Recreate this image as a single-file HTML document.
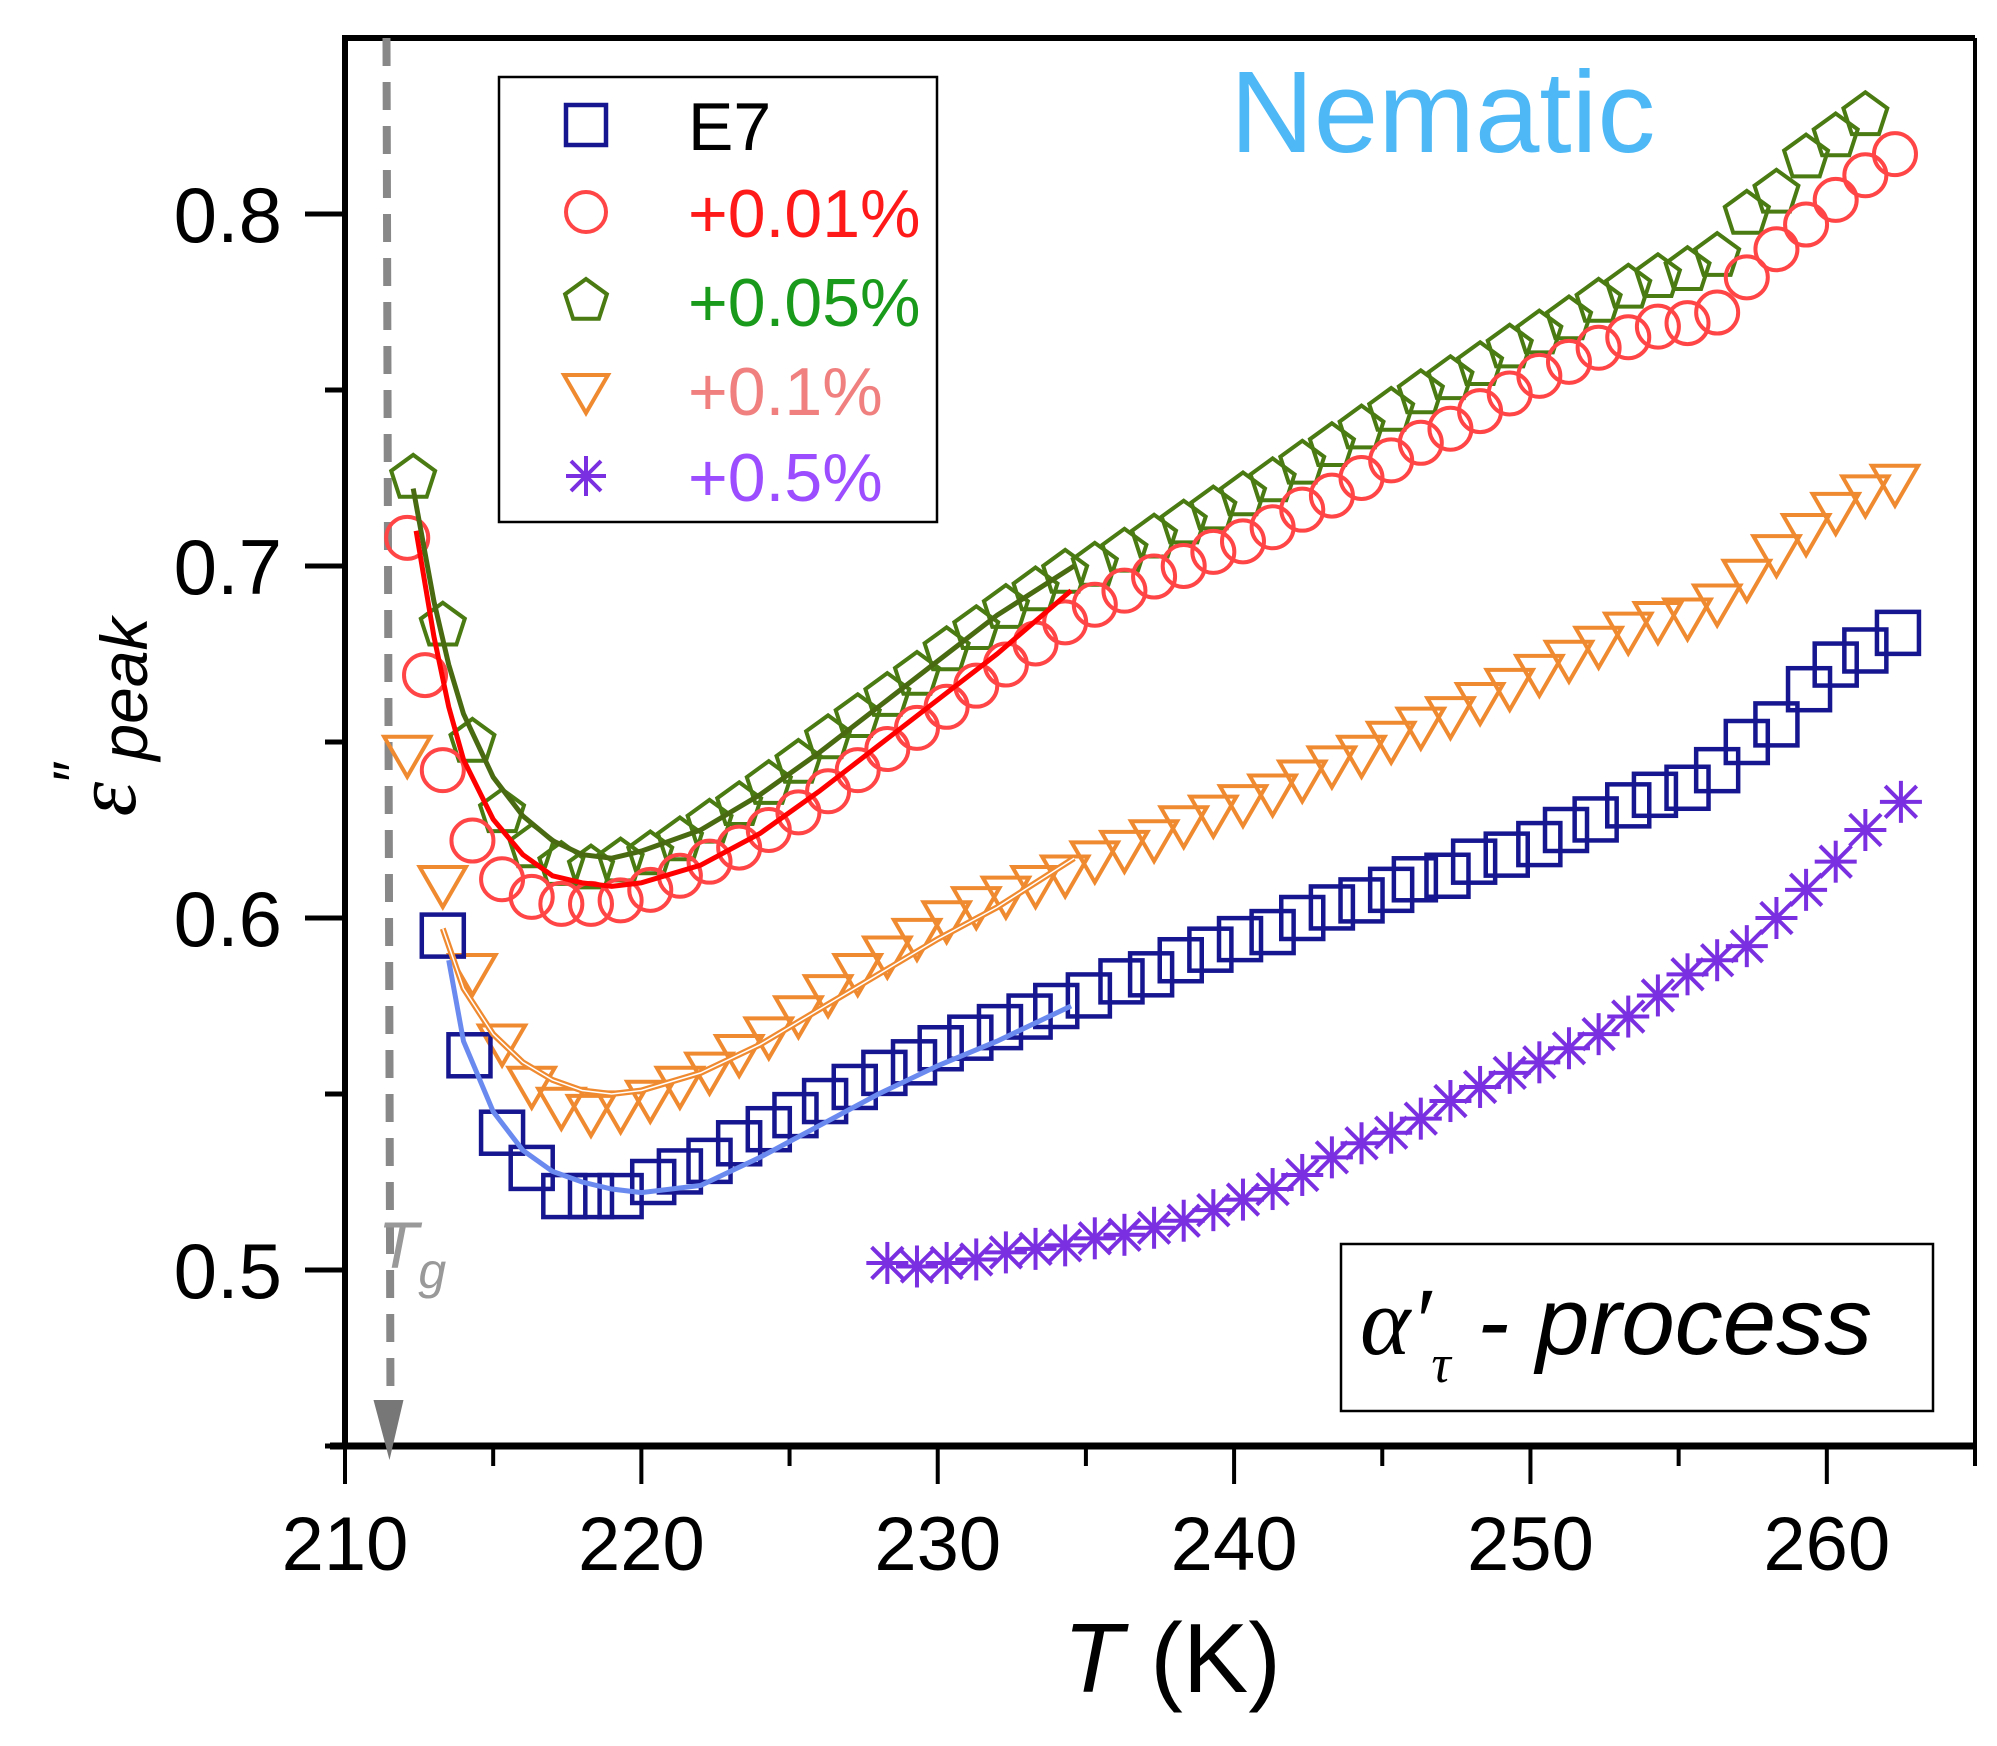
<!DOCTYPE html>
<html><head><meta charset="utf-8"><style>
html,body{margin:0;padding:0;background:#fff;}
svg{display:block;font-family:"Liberation Sans",sans-serif;}
</style></head><body>
<svg id="chart" width="1997" height="1746" viewBox="0 0 1997 1746"></svg>
<script>
const xTicks=[210,220,230,240,250,260];
const yTicks=[0.5,0.6,0.7,0.8];
const tE7=[213.3,214.2,215.3,216.3,217.4,218.3,219.3,220.4,221.3,222.3,223.3,224.3,225.2,226.2,227.2,228.2,229.2,230.1,231.1,232.1,233.1,234,235.1,236.2,237.2,238.2,239.2,240.2,241.3,242.3,243.3,244.3,245.3,246.1,247.2,248.1,249.2,250.3,251.2,252.2,253.3,254.2,255.3,256.3,257.3,258.3,259.4,260.3,261.3,262.4];
const vE7=[.595,.561,.539,.529,.521,.521,.521,.525,.528,.531,.536,.540,.544,.548,.552,.556,.559,.563,.566,.569,.572,.575,.578,.582,.584,.588,.591,.594,.596,.600,.603,.605,.608,.611,.612,.616,.618,.621,.625,.628,.632,.635,.637,.642,.650,.655,.665,.672,.676,.681];
const tRed=[212.1,212.7,213.3,214.3,215.3,216.3,217.3,218.3,219.3,220.3,221.3,222.3,223.3,224.3,225.3,226.3,227.3,228.3,229.3,230.3,231.3,232.3,233.3,234.3,235.3,236.3,237.3,238.3,239.3,240.3,241.3,242.3,243.3,244.3,245.3,246.3,247.3,248.3,249.3,250.3,251.3,252.3,253.3,254.3,255.3,256.3,257.3,258.3,259.3,260.3,261.3,262.3];
const vRed=[.708,.669,.642,.622,.611,.606,.604,.604,.605,.608,.612,.616,.620,.625,.630,.636,.642,.648,.654,.660,.666,.672,.678,.684,.689,.693,.697,.700,.704,.707,.711,.716,.720,.725,.730,.735,.739,.744,.749,.754,.758,.762,.765,.768,.769,.772,.782,.790,.797,.804,.811,.817];
const tGreen=[212.3,213.3,214.3,215.3,216.3,217.3,218.3,219.3,220.3,221.3,222.3,223.3,224.3,225.3,226.3,227.3,228.3,229.3,230.3,231.3,232.3,233.3,234.3,235.3,236.3,237.3,238.3,239.3,240.3,241.3,242.3,243.3,244.3,245.3,246.3,247.3,248.3,249.3,250.3,251.3,252.3,253.3,254.3,255.3,256.3,257.3,258.3,259.3,260.3,261.3];
const vGreen=[.725,.683,.650,.630,.620,.615,.614,.616,.618,.622,.627,.632,.638,.644,.651,.657,.663,.669,.676,.682,.688,.693,.698,.700,.704,.708,.712,.716,.720,.724,.729,.734,.739,.744,.749,.753,.757,.762,.766,.770,.775,.779,.782,.784,.788,.800,.806,.816,.822,.828];
const tOrange=[212.1,213.3,214.3,215.3,216.3,217.3,218.3,219.3,220.3,221.3,222.3,223.3,224.3,225.3,226.3,227.3,228.3,229.3,230.3,231.3,232.3,233.3,234.3,235.3,236.3,237.3,238.3,239.3,240.3,241.3,242.3,243.3,244.3,245.3,246.3,247.3,248.3,249.3,250.3,251.3,252.3,253.3,254.3,255.3,256.3,257.3,258.3,259.3,260.3,261.3,262.3];
const vOrange=[.647,.610,.585,.565,.553,.547,.545,.546,.549,.553,.557,.562,.567,.573,.579,.585,.590,.595,.600,.604,.607,.610,.613,.617,.620,.623,.627,.630,.633,.636,.640,.644,.647,.651,.655,.658,.662,.666,.670,.674,.678,.682,.685,.686,.690,.697,.704,.710,.716,.721,.724];
const tPurple=[228.3,229.3,230.3,231.3,232.3,233.3,234.3,235.3,236.3,237.3,238.3,239.3,240.3,241.3,242.3,243.3,244.3,245.3,246.3,247.3,248.3,249.3,250.3,251.3,252.3,253.3,254.3,255.3,256.3,257.3,258.3,259.3,260.3,261.3,262.5];
const vPurple=[.502,.501,.502,.503,.505,.506,.507,.509,.510,.512,.514,.517,.520,.523,.527,.532,.536,.539,.543,.548,.552,.556,.559,.563,.567,.572,.578,.584,.588,.592,.600,.608,.616,.625,.633];
const fitRedT=[212.4,213,213.5,214,215,216,217,218,219,220,222,224,226,228,230,232,234.5];
const fitRedV=[.710,.680,.660,.645,.628,.618,.612,.610,.609,.610,.615,.624,.636,.649,.662,.675,.693];
const fitGreenT=[212.3,213,213.5,214,215,216,217,218,219,220,222,224,226,228,230,232,234.6];
const fitGreenV=[.722,.690,.672,.658,.640,.629,.622,.618,.617,.619,.625,.635,.647,.660,.673,.686,.700];
const fitOrangeT=[213.3,214,215,216,217,218,219,220,222,224,226,228,230,232,234.6];
const fitOrangeV=[.597,.580,.567,.559,.554,.551,.550,.551,.556,.564,.574,.584,.594,.603,.617];
const fitBlueT=[213.5,214,215,216,217,218,219,220,222,224,226,228,230,232,234.5];
const fitBlueV=[.588,.565,.545,.534,.528,.525,.523,.522,.524,.532,.541,.550,.558,.565,.575];

const L=345,R=1975,T0=38,B=1446,XMIN=210,XMAX=265,YMIN=0.45,YMAX=0.85;
const sx=t=>L+(t-XMIN)/(XMAX-XMIN)*(R-L);
const sy=v=>B-(v-YMIN)/(YMAX-YMIN)*(B-T0);
const NS='http://www.w3.org/2000/svg';
const svg=document.getElementById('chart');
function mk(tag,attrs,parent){const e=document.createElementNS(NS,tag);for(const k in attrs)e.setAttribute(k,attrs[k]);(parent||svg).appendChild(e);return e;}

const ax=mk('g',{});


mk('line',{x1:L,y1:T0,x2:R,y2:T0,stroke:'#000','stroke-width':6},ax);
mk('line',{x1:R,y1:T0,x2:R,y2:B,stroke:'#000','stroke-width':4},ax);
mk('line',{x1:L,y1:T0-3,x2:L,y2:B+3,stroke:'#000','stroke-width':6},ax);
mk('line',{x1:L-15,y1:B,x2:R,y2:B,stroke:'#000','stroke-width':7},ax);
for(let t=210;t<=265;t+=5){const maj=t%10===0;mk('line',{x1:sx(t),y1:B,x2:sx(t),y2:B+(maj?38:20),stroke:'#000','stroke-width':4},ax);}
for(let i=0;i<=7;i++){const v=0.45+i*0.05;const maj=Math.abs((v*10)-Math.round(v*10))<1e-6;mk('line',{x1:L,y1:sy(v),x2:L-(maj?40:20),y2:sy(v),stroke:'#000','stroke-width':5},ax);}
xTicks.forEach(t=>{const e=mk('text',{x:sx(t),y:1570,'text-anchor':'middle','font-size':76,fill:'#000'});e.textContent=t;

});
yTicks.forEach(v=>{const e=mk('text',{x:282,y:sy(v)+28,'text-anchor':'end','font-size':78,fill:'#000'});e.textContent=v.toFixed(1);

});

const tg=mk('g',{});


mk('line',{x1:sx(211.4),y1:T0,x2:sx(211.4)+4,y2:1408,stroke:'#888','stroke-width':8,'stroke-dasharray':'28,16'},tg);
mk('polygon',{points:`${sx(211.4)-13},1400 ${sx(211.4)+17},1400 ${sx(211.4)+3},1460`,fill:'#777'},tg);
const tgt=mk('text',{x:378,y:1268,'font-size':66,'font-style':'italic',fill:'#999'},tg);
tgt.innerHTML='T<tspan dy="20" font-size="50">g</tspan>';

function poly(ts,vs,attrs,name){const d=ts.map((t,i)=>(i?'L':'M')+sx(t).toFixed(1)+','+sy(vs[i]).toFixed(1)).join(' ');const p=mk('path',Object.assign({d:d,fill:'none'},attrs));


return p;}

function marker(kind,cx,cy,col,parent,s){s=s||21;
 if(kind==='sq')return mk('rect',{x:cx-s,y:cy-s,width:2*s,height:2*s,fill:'none',stroke:col,'stroke-width':4.5},parent);
 if(kind==='ci')return mk('circle',{cx:cx,cy:cy,r:s,fill:'none',stroke:col,'stroke-width':4},parent);
 if(kind==='pe'){let p=[];for(let k=0;k<5;k++){const a=-Math.PI/2+k*2*Math.PI/5;p.push((cx+s*1.1*Math.cos(a)).toFixed(1)+','+(cy+s*1.1*Math.sin(a)).toFixed(1));}return mk('polygon',{points:p.join(' '),fill:'none',stroke:col,'stroke-width':4},parent);}
 if(kind==='tr')return mk('polygon',{points:`${cx-s*1.1},${cy-s*0.75} ${cx+s*1.1},${cy-s*0.75} ${cx},${cy+s*1.15}`,fill:'none',stroke:col,'stroke-width':4},parent);
 if(kind==='st'){const g=mk('g',{stroke:col,'stroke-width':4},parent);mk('line',{x1:cx-s,y1:cy,x2:cx+s,y2:cy},g);mk('line',{x1:cx,y1:cy-s,x2:cx,y2:cy+s},g);mk('line',{x1:cx-s*.75,y1:cy-s*.75,x2:cx+s*.75,y2:cy+s*.75},g);mk('line',{x1:cx-s*.75,y1:cy+s*.75,x2:cx+s*.75,y2:cy-s*.75},g);return g;}
}
function series(ts,vs,kind,col,name){const g=mk('g',{});


ts.forEach((t,i)=>{const m=marker(kind,sx(t),sy(vs[i]),col,g);

});}

series(tGreen,vGreen,'pe','#4a7a12','series-0.05pct');
series(tRed,vRed,'ci','#ff4545','series-0.01pct');
series(tOrange,vOrange,'tr','#f08a30','series-0.1pct');
series(tE7,vE7,'sq','#161690','series-e7');
series(tPurple,vPurple,'st','#7a30e0','series-0.5pct');

poly(fitGreenT,fitGreenV,{stroke:'#4a6a12','stroke-width':5},'fit-0.05pct');
poly(fitRedT,fitRedV,{stroke:'#ff0000','stroke-width':5},'fit-0.01pct');
poly(fitOrangeT,fitOrangeV,{stroke:'#f08a30','stroke-width':6},'fit-0.1pct');
poly(fitOrangeT,fitOrangeV,{stroke:'#fff','stroke-width':1.5},'fit-0.1pct-core');
poly(fitBlueT,fitBlueV,{stroke:'#6a8af0','stroke-width':5},'fit-e7');

const lg=mk('g',{});


mk('rect',{x:499,y:77,width:438,height:445,fill:'#fff',stroke:'#000','stroke-width':2.5},lg);
const leg=[['sq','#161690','E7','#000'],['ci','#ff4545','+0.01%','#ff1a1a'],['pe','#4a7a12','+0.05%','#1a9a1a'],['tr','#f08a30','+0.1%','#f08080'],['st','#7a30e0','+0.5%','#9b4dff']];
const legY=[125,212,301,390,476];
leg.forEach((e,i)=>{const m=marker(e[0],586,legY[i],e[1],lg,20);


const t=mk('text',{x:688,y:legY[i]+25,'font-size':68,fill:e[3]},lg);t.textContent=e[2];

});

const nm=mk('text',{x:1230,y:152,'font-size':116,fill:'#4db8f5'});nm.textContent='Nematic';


const pb=mk('g',{});


mk('rect',{x:1341,y:1244,width:592,height:167,fill:'#fff',stroke:'#000','stroke-width':2.5},pb);
const pt=mk('text',{x:1360,y:1354,'font-size':96,'font-style':'italic',fill:'#000'},pb);
pt.innerHTML='<tspan font-family="Liberation Serif">α′</tspan><tspan dy="28" font-size="54" font-family="Liberation Serif">τ</tspan><tspan dy="-28"> - process</tspan>';

const xl=mk('text',{x:1172,y:1692,'text-anchor':'middle','font-size':98,fill:'#000'});
xl.innerHTML='<tspan font-style="italic">T</tspan>  (K)';


const yl=mk('text',{x:0,y:0,'text-anchor':'middle','font-size':88,fill:'#000',transform:'translate(135,717) rotate(-90)'});
yl.innerHTML='<tspan font-style="italic" font-family="Liberation Serif">ε</tspan><tspan dy="-40" font-size="60">″</tspan><tspan dy="52" font-size="66" font-style="italic">peak</tspan>';


</script>
</body></html>
